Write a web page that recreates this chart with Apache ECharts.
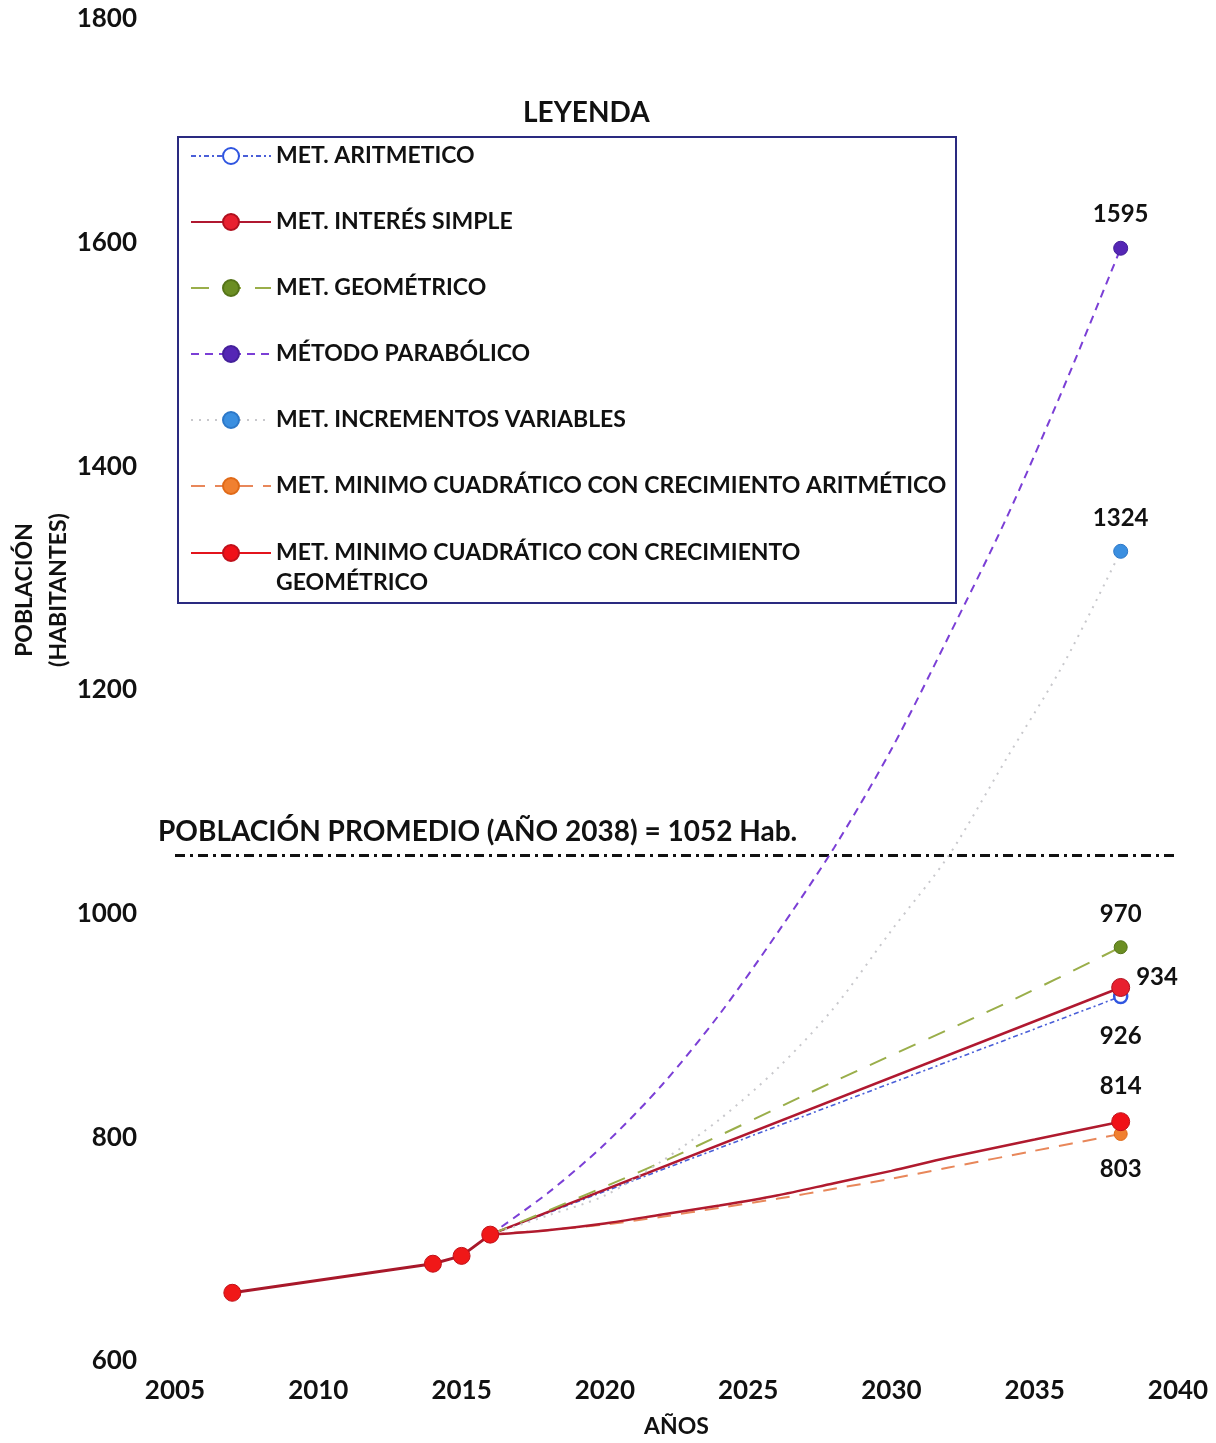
<!DOCTYPE html>
<html>
<head>
<meta charset="utf-8">
<script src="https://cdn.jsdelivr.net/npm/echarts@6/dist/echarts.min.js"></script>
<style>
  html, body { margin: 0; padding: 0; background: #ffffff; }
  #chart { width: 1216px; height: 1443px; }
</style>
</head>
<body>
<div id="chart"></div>
<script>
// Proyección de población por distintos métodos (habitantes vs. año)
const FONT = 'Lato, "Open Sans", sans-serif';

const seriesNames = [
  'MET. ARITMETICO',
  'MET. INTERÉS SIMPLE',
  'MET. GEOMÉTRICO',
  'MÉTODO PARABÓLICO',
  'MET. INCREMENTOS VARIABLES',
  'MET. MINIMO CUADRÁTICO CON CRECIMIENTO ARITMÉTICO',
  'MET. MINIMO CUADRÁTICO CON CRECIMIENTO\nGEOMÉTRICO'
];

// Datos censales
const censusYears = [2007, 2014, 2015, 2016];
const censusPop = [661, 687, 694, 713];

// Proyecciones al año 2038
const aritmeticoYears = [2016, 2038];
const aritmeticoPop = [713, 926];

const interesYears = [2016, 2038];
const interesPop = [713, 934];

const geometricoYears = [2016, 2022, 2028, 2034, 2038];
const geometricoPop = [713, 778, 850, 920, 970];

const parabolicoYears = [2016, 2018, 2020, 2022, 2024, 2026, 2028, 2030, 2032, 2034, 2036, 2038];
const parabolicoPop = [713, 750, 794, 847, 910, 982, 1059, 1147, 1248, 1353, 1470, 1595];

const incrementosYears = [2016, 2018, 2020, 2022, 2024, 2026, 2028, 2030, 2032, 2034, 2036, 2038];
const incrementosPop = [713, 730, 748, 779, 816, 861, 916, 985, 1052, 1138, 1223, 1324];

const mcAritYears = [2016, 2018, 2020, 2022, 2024, 2026, 2028, 2030, 2032, 2035, 2038];
const mcAritPop = [713, 717, 722, 729, 737, 745, 754, 763, 773, 788, 803];

const mcGeomYears = [2016, 2018, 2020, 2022, 2024, 2026, 2028, 2030, 2032, 2035, 2038];
const mcGeomPop = [713, 717, 723, 731, 739, 748, 759, 770, 782, 798, 814];

// Población promedio al 2038
const promedio2038 = 1052;

// Ejes
const xMin = 2005, xMax = 2040, xStep = 5;
const yMin = 600, yMax = 1800, yStep = 200;

// Estilos por método
const styles = [
  { color: '#3f55d6', line: { color: '#4a5fd8', width: 1.6, type: [5, 3, 2, 3] }, sym: 13, item: { color: '#ffffff', borderColor: '#2f55e0', borderWidth: 2.5 }, label: { position: 'bottom', distance: 20 }, smooth: false },
  { color: '#c0142c', line: { color: '#b01830', width: 2.5, type: 'solid' }, sym: 18, item: { color: '#e8202f', borderColor: '#b0101e', borderWidth: 1 }, label: { position: 'right', distance: 6, offset: [0, -10] }, smooth: false },
  { color: '#6b8e23', line: { color: '#9aae4a', width: 2, type: [18, 14] }, sym: 13, item: { color: '#6b8e23', borderColor: '#557418', borderWidth: 1 }, label: { position: 'top', distance: 14 }, smooth: true },
  { color: '#5a2db8', line: { color: '#7b3fd6', width: 2, type: [8, 6] }, sym: 14, item: { color: '#5526b5', borderColor: '#44209a', borderWidth: 1 }, label: { position: 'top', distance: 14 }, smooth: true },
  { color: '#3b8fe0', line: { color: '#c8c8cc', width: 2, type: [2, 6] }, sym: 14, item: { color: '#3b8fe0', borderColor: '#2d78c8', borderWidth: 1 }, label: { position: 'top', distance: 14 }, smooth: true },
  { color: '#f07820', line: { color: '#e8875a', width: 2, type: [14, 10] }, sym: 13, item: { color: '#f08030', borderColor: '#e06a18', borderWidth: 1 }, label: { position: 'bottom', distance: 16 }, smooth: true },
  { color: '#e3141c', line: { color: '#b01a2e', width: 2.5, type: 'solid' }, sym: 18, item: { color: '#f01018', borderColor: '#c0101a', borderWidth: 1 }, label: { position: 'top', distance: 14 }, smooth: true }
];

const projections = [
  [aritmeticoYears, aritmeticoPop],
  [interesYears, interesPop],
  [geometricoYears, geometricoPop],
  [parabolicoYears, parabolicoPop],
  [incrementosYears, incrementosPop],
  [mcAritYears, mcAritPop],
  [mcGeomYears, mcGeomPop]
];

const labelText = { fontFamily: FONT, fontWeight: 'bold', fontSize: 24, color: '#111111' };

// Líneas de proyección: marcador y etiqueta sólo en el año final
const projSeries = projections.map(([years, pops], k) => {
  const st = styles[k];
  const data = years.map((yr, i) => {
    if (i === years.length - 1) {
      return {
        value: [yr, pops[i]],
        symbol: 'circle',
        symbolSize: st.sym,
        label: Object.assign({ show: true, formatter: p => String(p.value[1]) }, labelText, st.label)
      };
    }
    return { value: [yr, pops[i]], symbol: 'none' };
  });
  return {
    name: seriesNames[k],
    type: 'line',
    data: data,
    symbol: 'circle',
    symbolSize: st.sym,
    showAllSymbol: true,
    smooth: st.smooth ? 0.3 : false,
    color: st.color,
    lineStyle: st.line,
    itemStyle: st.item,
    z: 3 + k,
    emphasis: { disabled: true }
  };
});

// Tramo censal con línea de población promedio
const censusSeries = {
  name: 'Censos',
  type: 'line',
  data: censusYears.map((yr, i) => [yr, censusPop[i]]),
  symbol: 'circle',
  symbolSize: 17,
  color: '#f01818',
  lineStyle: { color: '#a8182a', width: 3 },
  itemStyle: { color: '#f01818', borderColor: '#c01018', borderWidth: 1 },
  z: 12,
  emphasis: { disabled: true },
  markLine: {
    silent: true,
    symbol: 'none',
    lineStyle: { color: '#111111', width: 3, type: [10, 5, 3, 5] },
    label: {
      show: true,
      position: 'insideStartTop',
      distance: [-17, 10],
      formatter: 'POBLACIÓN PROMEDIO (AÑO 2038) = ' + promedio2038 + ' Hab.',
      fontFamily: FONT,
      fontSize: 28,
      fontWeight: 'bold',
      color: '#111111'
    },
    data: [{ yAxis: promedio2038 }]
  }
};

// Leyenda: seis entradas de una línea y una de dos líneas
const legendText = { fontFamily: FONT, fontSize: 23, fontWeight: 'bold', color: '#111111', lineHeight: 30 };
const legendCommon = {
  orient: 'vertical',
  left: 190,
  padding: 0,
  itemGap: 36,
  itemWidth: 80,
  itemHeight: 20,
  selectedMode: false,
  z: 20,
  textStyle: legendText
};

const chart = echarts.init(document.getElementById('chart'), null, { renderer: 'canvas' });
chart.setOption({
  backgroundColor: '#ffffff',
  animation: false,
  title: {
    text: 'LEYENDA',
    left: 518,
    top: 94,
    textStyle: { fontFamily: FONT, fontSize: 28, fontWeight: 'bold', color: '#111111' }
  },
  legend: [
    Object.assign({}, legendCommon, {
      top: 141,
      data: seriesNames.slice(0, 6)
    }),
    Object.assign({}, legendCommon, {
      top: 508,
      data: [{ name: seriesNames[6], lineStyle: { color: '#e3141c' } }],
      // línea vacía inicial: la primera línea del texto queda a la altura del icono
      formatter: name => '\n' + name
    })
  ],
  grid: { left: 175, right: 38, top: 19, bottom: 81, containLabel: false },
  xAxis: {
    type: 'value',
    min: xMin, max: xMax, interval: xStep,
    name: 'AÑOS',
    nameLocation: 'middle',
    nameGap: 54,
    nameTextStyle: { fontFamily: FONT, fontSize: 23, fontWeight: 'bold', color: '#111111' },
    axisLine: { show: false },
    axisTick: { show: false },
    splitLine: { show: false },
    axisLabel: { fontFamily: FONT, fontSize: 26, fontWeight: 'bold', color: '#111111', margin: 17, formatter: v => String(v) }
  },
  yAxis: {
    type: 'value',
    min: yMin, max: yMax, interval: yStep,
    axisLine: { show: false },
    axisTick: { show: false },
    splitLine: { show: false },
    axisLabel: { fontFamily: FONT, fontSize: 26, fontWeight: 'bold', color: '#111111', margin: 38, formatter: v => String(v) }
  },
  graphic: [
    {
      type: 'rect',
      z: 15,
      shape: { x: 178, y: 137, width: 778, height: 466 },
      style: { fill: '#ffffff', stroke: '#2a2a80', lineWidth: 2 }
    },
    {
      type: 'text',
      x: 42,
      y: 590,
      rotation: Math.PI / 2,
      style: {
        text: 'POBLACIÓN\n(HABITANTES)',
        fontFamily: FONT,
        fontSize: 23,
        fontWeight: 'bold',
        lineHeight: 34,
        align: 'center',
        verticalAlign: 'middle',
        fill: '#111111'
      }
    }
  ],
  series: [censusSeries].concat(projSeries)
});
</script>
</body>
</html>
